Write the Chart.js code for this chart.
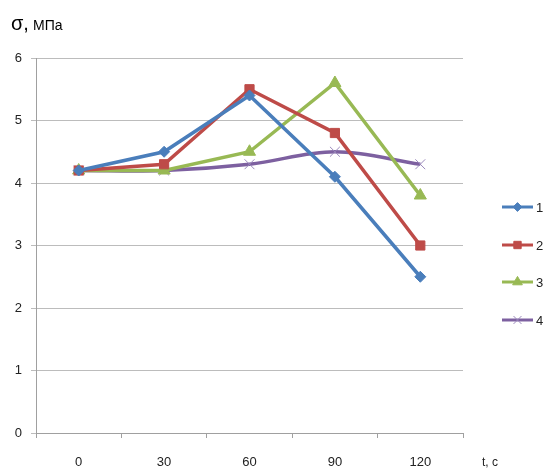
<!DOCTYPE html>
<html><head><meta charset="utf-8">
<script src="https://cdn.jsdelivr.net/npm/chart.js@4"></script>
<style>html,body{margin:0;padding:0;background:#fff}#w{width:546px;height:473px}</style>
</head><body><div id="w"><canvas id="c"></canvas></div>
<script>
const categories = ['0','30','60','90','120'];
const series1 = [4.2, 4.5, 5.4, 4.1, 2.5];
const series2 = [4.2, 4.3, 5.5, 4.8, 3.0];
const series3 = [4.2, 4.2, 4.5, 5.6, 3.8];
const series4 = [4.2, 4.2, 4.3, 4.5, 4.3];
const seriesLabels = ['1','2','3','4'];
const yTicks = [0,1,2,3,4,5,6];

const colors = ['#4A7EBB','#BE4B48','#98B954','#7D60A0'];
const styles = [
  {ps:'rectRot', r:5.5},
  {ps:'rect', r:6.5},
  {ps:'triangle', r:7},
  {ps:'crossRot', r:7}
];
const dataArr = [series1, series2, series3, series4];
const datasets = dataArr.map((d,i)=>({
  label: seriesLabels[i], data: d,
  borderColor: colors[i], backgroundColor: colors[i],
  borderWidth: 3.5, pointStyle: styles[i].ps, pointRadius: styles[i].r,
  pointBorderWidth: 1, pointBorderColor: i===3?'#9a88bb':colors[i],
  pointBackgroundColor: colors[i],
  tension: i===3?0.35:0, order: i
}));

const deco = {
  id:'deco',
  afterDraw(chart){
    const ctx = chart.ctx;
    ctx.save();
    ctx.fillStyle = '#000';
    ctx.textBaseline = 'alphabetic';
    ctx.font = '20px "Liberation Sans", Arial, sans-serif';
    ctx.fillText('σ,', 11, 30);
    ctx.font = '14px "Liberation Sans Narrow", "Liberation Sans", Arial, sans-serif';
    ctx.fillText('МПа', 33, 30);
    ctx.font = '12px "Liberation Sans Narrow", "Liberation Sans", Arial, sans-serif';
    ctx.fillStyle = '#222';
    ctx.fillText('t, c', 482, 466);
    const ys = [207, 245, 282, 320];
    chart.data.datasets.forEach((ds,i)=>{
      const y = ys[i];
      ctx.strokeStyle = ds.borderColor;
      ctx.lineWidth = 3;
      ctx.beginPath(); ctx.moveTo(502,y); ctx.lineTo(533,y); ctx.stroke();
      ctx.fillStyle = ds.pointBackgroundColor; ctx.strokeStyle = ds.pointBorderColor;
      ctx.lineWidth = 1;
      Chart.helpers.drawPoint(ctx, {pointStyle: ds.pointStyle, radius: ds.pointRadius*0.8, rotation:0, borderWidth:1}, 517.5, y);
      ctx.fillStyle = '#222';
      ctx.font = '13px "Liberation Sans", Arial, sans-serif';
      ctx.textBaseline = 'middle';
      ctx.fillText(ds.label, 536, y+1);
    });
    ctx.restore();
  }
};

new Chart(document.getElementById('c'), {
  type:'line',
  data:{labels:categories, datasets},
  options:{
    responsive:true, maintainAspectRatio:false, animation:false,
    layout:{padding:{top:58, right:83, left:0, bottom:0}},
    plugins:{legend:{display:false}, tooltip:{enabled:false}},
    scales:{
      x:{
        offset:true,
        grid:{offset:true, drawOnChartArea:false, drawTicks:true, tickLength:5, color:'#a0a0a0'},
        border:{color:'#a0a0a0', width:1},
        ticks:{color:'#222', font:{size:13, family:'"Liberation Sans", Arial, sans-serif'}, padding:17, maxRotation:0},
        afterFit(s){ s.height = 40; }
      },
      y:{
        min:0, max:6,
        afterBuildTicks(s){ s.ticks = yTicks.map(v=>({value:v})); },
        grid:{color:'#bcbcbc', tickLength:5, lineWidth:1},
        border:{color:'#a0a0a0', width:1},
        ticks:{color:'#222', font:{size:13, family:'"Liberation Sans", Arial, sans-serif'}, padding:9},
        afterFit(s){ s.width = 36; }
      }
    }
  },
  plugins:[deco]
});
</script></body></html>
